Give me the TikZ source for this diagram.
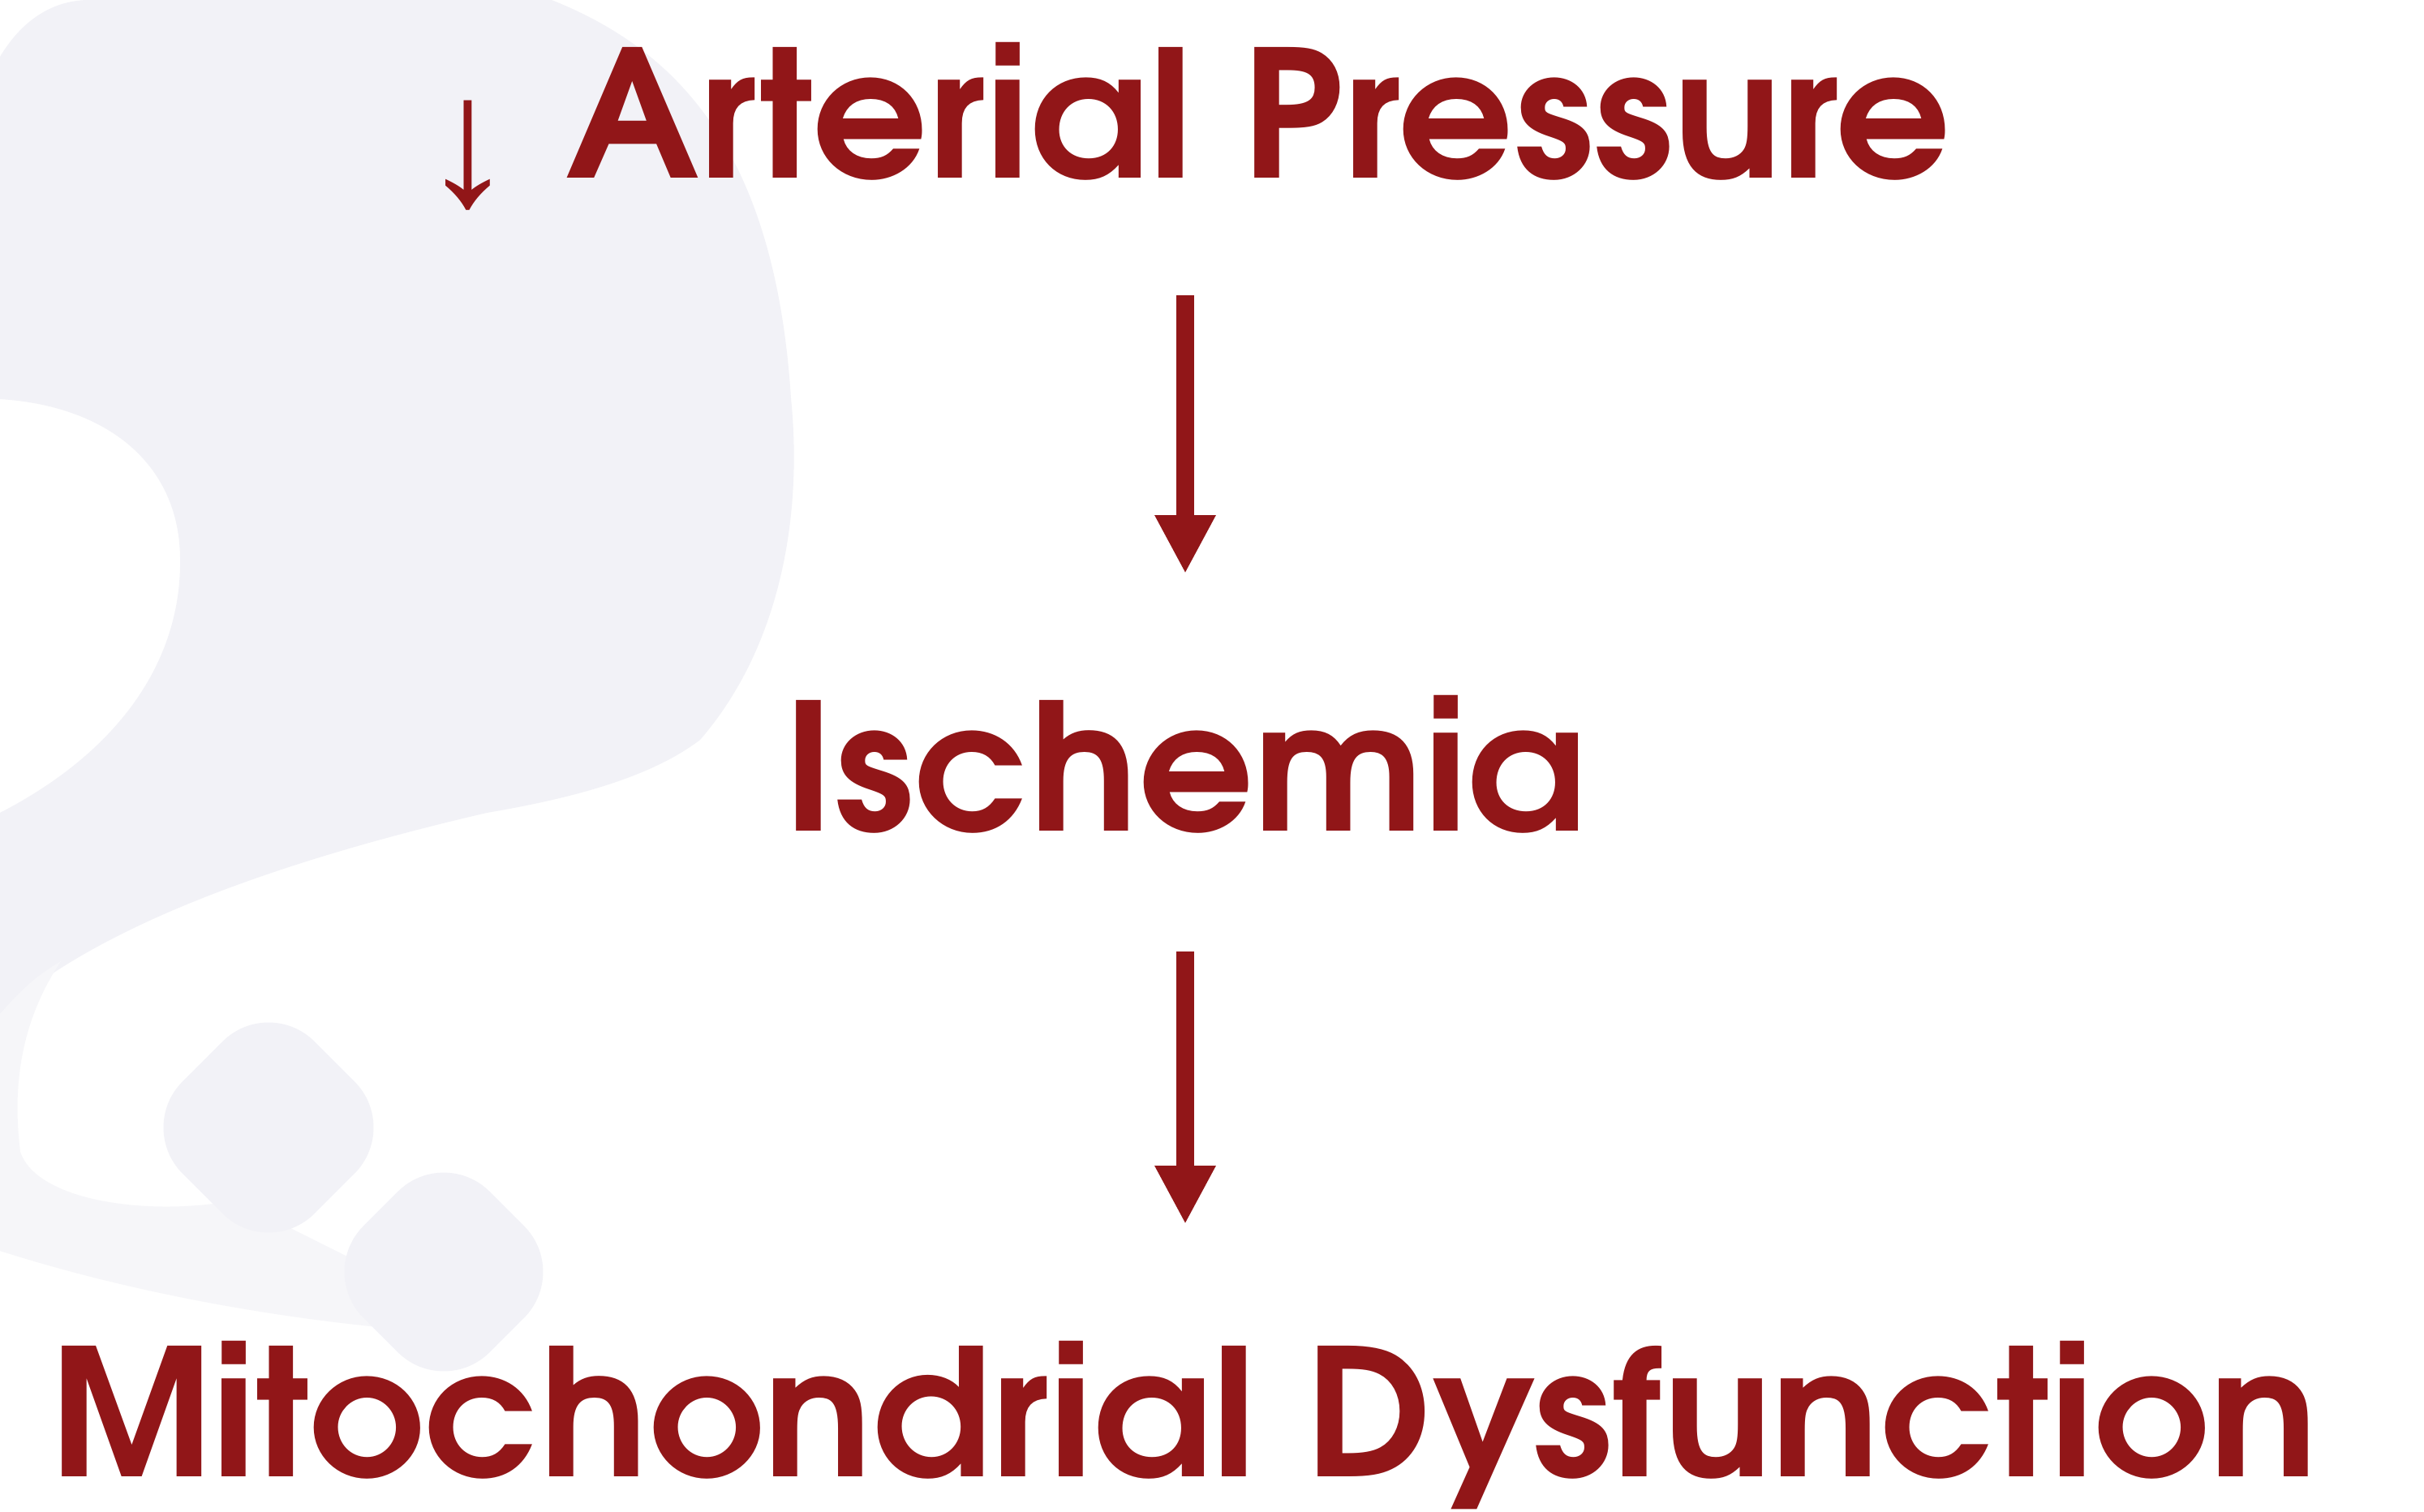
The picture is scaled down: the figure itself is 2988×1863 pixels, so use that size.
\documentclass[tikz,border=0pt]{standalone}
\usepackage{fontspec}
\setmainfont{TeX Gyre Adventor}
\newfontfamily\arrowfont{Liberation Sans}
\usetikzlibrary{arrows.meta, positioning}
\definecolor{bloodred}{RGB}{145,22,24}
\definecolor{markgray}{RGB}{242,242,247}

\begin{document}
\begin{tikzpicture}[x=0.01cm, y=-0.01cm,
   stage/.style={anchor=base, inner sep=0pt, text=bloodred, text height=1.6cm, text depth=0pt,
     xscale=1.022, font=\fontsize{62}{62}\selectfont\bfseries},
   flow/.style={draw=bloodred, line width=0.22cm, -{Triangle[width=0.70cm, length=0.72cm]}}]
   \useasboundingbox (0,0) rectangle (2988,1863);
   \fill[white] (0,0) rectangle (2988,1863);

   % faint watermark in the background
   \fill[markgray] (0,70) .. controls (30,20) and (70,0) .. (110,0) -- (680,0)
     .. controls (830,60) and (955,180) .. (975,491)
     .. controls (990,640) and (960,800) .. (863,912)
     .. controls (800,960) and (700,985) .. (600,1002)
     .. controls (350,1060) and (120,1140) .. (0,1250) -- (0,1002)
     .. controls (140,930) and (225,820) .. (222,686)
     .. controls (220,570) and (130,500) .. (0,492) -- cycle;
   \fill[markgray!70] (0,1250) .. controls (30,1215) and (50,1200) .. (75,1185)
     .. controls (25,1260) and (15,1340) .. (25,1420)
     .. controls (45,1480) and (180,1500) .. (290,1480)
     -- (450,1560) -- (510,1640)
     .. controls (330,1625) and (150,1590) .. (0,1542) -- cycle;
   \fill[markgray, rounded corners=0.8cm, rotate around={45:(331,1390)}] (216,1275) rectangle (446,1505);
   \fill[markgray, rounded corners=0.8cm, rotate around={45:(547,1568)}] (437,1458) rectangle (657,1678);

   \node[stage] (press) at (1462,219) {\raisebox{-0.33cm}{\arrowfont\fontsize{65}{65}\selectfont\mdseries ↓} Arterial Pressure};
   \node[stage] (isch)  at (1461,1024) {Ischemia};
   \node[stage] (mito)  at (1459,1820) {Mitochondrial Dysfunction};

   \draw[flow, shorten <=1.44cm, shorten >=1.56cm] (press.south -| isch.north) -- (isch.north);
   \draw[flow, shorten <=1.48cm, shorten >=1.50cm] (isch.south) -- (isch.south |- mito.north);
\end{tikzpicture}
\end{document}
